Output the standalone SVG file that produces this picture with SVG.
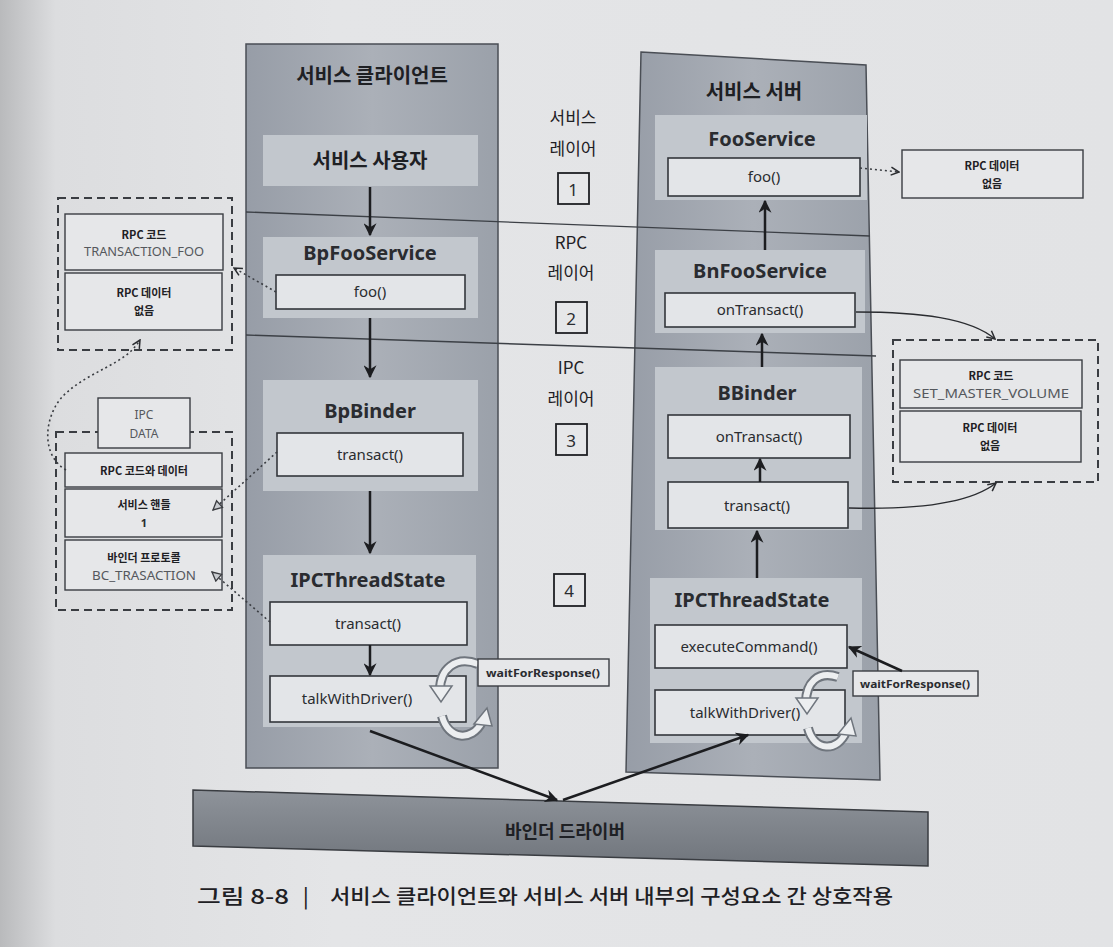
<svg xmlns="http://www.w3.org/2000/svg" width="1113" height="947" viewBox="0 0 1113 947">
<defs>
  <linearGradient id="bg" x1="0" y1="0" x2="1" y2="0">
    <stop offset="0" stop-color="#b9babc"/>
    <stop offset="0.05" stop-color="#dcdddf"/>
    <stop offset="0.3" stop-color="#e4e5e7"/>
    <stop offset="1" stop-color="#e2e3e5"/>
  </linearGradient>
  <linearGradient id="panel" x1="0" y1="0" x2="1" y2="0">
    <stop offset="0" stop-color="#979da7"/>
    <stop offset="0.5" stop-color="#abb0b8"/>
    <stop offset="1" stop-color="#9ba1aa"/>
  </linearGradient>
  <linearGradient id="bar" x1="0" y1="0" x2="0" y2="1">
    <stop offset="0" stop-color="#8e939a"/>
    <stop offset="1" stop-color="#70757c"/>
  </linearGradient>
  <marker id="ah" viewBox="0 0 10 10" refX="9" refY="5" markerWidth="13" markerHeight="13" markerUnits="userSpaceOnUse" orient="auto">
    <path d="M0,0 L10,5 L0,10 L3,5 z" fill="#1c1d20"/>
  </marker>
  <marker id="ao" viewBox="0 0 10 10" refX="9" refY="5" markerWidth="10" markerHeight="10" markerUnits="userSpaceOnUse" orient="auto">
    <path d="M1,1 L9,5 L1,9" fill="none" stroke="#2a2c30" stroke-width="1.5"/>
  </marker>
  <marker id="at" viewBox="0 0 10 10" refX="9" refY="5" markerWidth="11" markerHeight="11" markerUnits="userSpaceOnUse" orient="auto">
    <path d="M1,1 L9,5 L1,9 z" fill="#c9ccd0" stroke="#3a3c40" stroke-width="1.2"/>
  </marker>
  <style>
    .k{font-family:"Noto Sans CJK KR","Noto Sans",sans-serif;fill:#1e2024;text-anchor:middle}
    .l{font-family:"Noto Sans","Noto Sans CJK KR",sans-serif;fill:#2a2c30;text-anchor:middle}
    .cap{font-family:"Noto Sans CJK KR","Noto Sans",sans-serif;fill:#1e2024;font-size:20px;font-weight:500}
    .t{font-size:20px;font-weight:bold}
    .m{font-size:15px}
    .s{font-size:11px;font-weight:bold}
    .ss{font-size:12px;fill:#55585d}
    .gbox{fill:#c2c7cd}
    .wbox{fill:#e3e5e8;stroke:#33363b;stroke-width:1.6}
    .pbox{fill:#e6e7e9;stroke:#3a3d42;stroke-width:1.4}
    .dash{fill:none;stroke:#3a3d42;stroke-width:2;stroke-dasharray:8 5}
    .arr{stroke:#1c1d20;stroke-width:2.5;fill:none}
    .dot{stroke:#3a3d42;stroke-width:1.6;fill:none;stroke-dasharray:2 3}
    .thin{stroke:#2a2c30;stroke-width:1.4;fill:none}
    .num{fill:#e6e7e9;stroke:#1e2024;stroke-width:1.8}
    .loopo{fill:none;stroke:#6f757d;stroke-width:10}
    .loopi{fill:none;stroke:#eceef0;stroke-width:6}
  </style>
</defs>
<rect x="0" y="0" width="1113" height="947" fill="url(#bg)"/>

<g id="client-panel">
  <rect x="246" y="44" width="252" height="724" fill="url(#panel)" stroke="#4a4e55" stroke-width="1.5"/>
  <text class="k t" x="372" y="83">서비스 클라이언트</text>
</g>
<g id="server-panel">
  <polygon points="641,52 866,65 880,780 626,772" fill="url(#panel)" stroke="#4a4e55" stroke-width="1.5"/>
  <text class="k t" x="754" y="99">서비스 서버</text>
</g>

<g id="layer-lines">
  <line x1="246" y1="212" x2="870" y2="236" stroke="#3c4046" stroke-width="1.4"/>
  <line x1="246" y1="335" x2="876" y2="356" stroke="#3c4046" stroke-width="1.4"/>
</g>

<g id="layer-labels">
  <text class="k" x="573" y="124" font-size="17">서비스</text>
  <text class="k" x="573" y="155" font-size="17">레이어</text>
  <rect class="num" x="558" y="173" width="31" height="31"/>
  <text class="l" x="573" y="196" font-size="17">1</text>
  <text class="k" x="571" y="249" font-size="17">RPC</text>
  <text class="k" x="571" y="279" font-size="17">레이어</text>
  <rect class="num" x="556" y="302" width="31" height="31"/>
  <text class="l" x="571" y="325" font-size="17">2</text>
  <text class="k" x="571" y="374" font-size="17">IPC</text>
  <text class="k" x="571" y="405" font-size="17">레이어</text>
  <rect class="num" x="556" y="424" width="31" height="31"/>
  <text class="l" x="571" y="447" font-size="17">3</text>
  <rect class="num" x="554" y="574" width="31" height="32"/>
  <text class="l" x="569" y="597" font-size="17">4</text>
</g>

<g id="service-user">
  <rect class="gbox" x="263" y="135" width="215" height="51"/>
  <text class="k t" x="370" y="168">서비스 사용자</text>
</g>
<g id="bpfooservice">
  <rect class="gbox" x="263" y="237" width="215" height="81"/>
  <text class="l t" x="370" y="260">BpFooService</text>
  <rect class="wbox" x="276" y="275" width="189" height="34"/>
  <text class="l m" x="370" y="297">foo()</text>
</g>
<g id="bpbinder">
  <rect class="gbox" x="263" y="380" width="215" height="111"/>
  <text class="l t" x="370" y="418">BpBinder</text>
  <rect class="wbox" x="277" y="433" width="186" height="43"/>
  <text class="l m" x="370" y="460">transact()</text>
</g>
<g id="client-ipcthreadstate">
  <rect class="gbox" x="263" y="555" width="213" height="172"/>
  <text class="l t" x="368" y="587">IPCThreadState</text>
  <rect class="wbox" x="270" y="602" width="197" height="43"/>
  <text class="l m" x="368" y="629">transact()</text>
  <rect class="wbox" x="270" y="676" width="196" height="46"/>
  <text class="l m" x="357" y="704">talkWithDriver()</text>
</g>

<g id="fooservice">
  <rect class="gbox" x="655" y="115" width="212" height="85"/>
  <text class="l t" x="762" y="146">FooService</text>
  <rect class="wbox" x="668" y="158" width="192" height="38"/>
  <text class="l m" x="764" y="182">foo()</text>
</g>
<g id="bnfooservice">
  <rect class="gbox" x="655" y="250" width="210" height="83"/>
  <text class="l t" x="760" y="278">BnFooService</text>
  <rect class="wbox" x="665" y="293" width="190" height="34"/>
  <text class="l m" x="760" y="315">onTransact()</text>
</g>
<g id="bbinder">
  <rect class="gbox" x="655" y="367" width="207" height="163"/>
  <text class="l t" x="757" y="400">BBinder</text>
  <rect class="wbox" x="668" y="415" width="182" height="43"/>
  <text class="l m" x="759" y="442">onTransact()</text>
  <rect class="wbox" x="668" y="482" width="180" height="46"/>
  <text class="l m" x="757" y="511">transact()</text>
</g>
<g id="server-ipcthreadstate">
  <rect class="gbox" x="650" y="578" width="212" height="165"/>
  <text class="l t" x="752" y="607">IPCThreadState</text>
  <rect class="wbox" x="655" y="625" width="192" height="43"/>
  <text class="l m" x="749" y="652">executeCommand()</text>
  <rect class="wbox" x="655" y="690" width="190" height="45"/>
  <text class="l m" x="745" y="718">talkWithDriver()</text>
</g>

<g id="binder-driver">
  <polygon points="193,790 928,812 928,866 193,846" fill="url(#bar)" stroke="#3a3d42" stroke-width="1.5"/>
  <text class="k" x="565" y="838" font-size="18" font-weight="bold">바인더 드라이버</text>
</g>

<g id="client-loop">
  <path class="loopo" d="M478,664 C455,655 440,670 440,690"/>
  <path class="loopi" d="M478,664 C455,655 440,670 440,690"/>
  <polygon points="430,686 452,686 441,702" fill="#eceef0" stroke="#6f757d" stroke-width="1.5"/>
  <path class="loopo" d="M442,716 C448,740 472,742 482,722"/>
  <path class="loopi" d="M442,716 C448,740 472,742 482,722"/>
  <polygon points="474,724 492,726 487,708" fill="#eceef0" stroke="#6f757d" stroke-width="1.5"/>
</g>
<g id="client-wait">
  <rect class="pbox" x="478" y="659" width="131" height="27"/>
  <text class="l" x="543" y="677" font-size="10" font-weight="bold" textLength="114" lengthAdjust="spacingAndGlyphs">waitForResponse()</text>
</g>
<g id="server-loop">
  <path class="loopo" d="M838,677 C817,670 806,684 806,702"/>
  <path class="loopi" d="M838,677 C817,670 806,684 806,702"/>
  <polygon points="796,698 818,698 807,714" fill="#eceef0" stroke="#6f757d" stroke-width="1.5"/>
  <path class="loopo" d="M808,728 C814,752 838,752 846,732"/>
  <path class="loopi" d="M808,728 C814,752 838,752 846,732"/>
  <polygon points="838,734 856,736 851,718" fill="#eceef0" stroke="#6f757d" stroke-width="1.5"/>
</g>
<g id="server-wait">
  <rect class="pbox" x="853" y="671" width="125" height="25"/>
  <text class="l" x="915" y="688" font-size="10" font-weight="bold" textLength="110" lengthAdjust="spacingAndGlyphs">waitForResponse()</text>
</g>

<g id="rpc-foo-group">
  <rect class="dash" x="58" y="198" width="174" height="152"/>
  <rect class="pbox" x="65" y="214" width="158" height="56"/>
  <text class="k s" x="144" y="239">RPC 코드</text>
  <text class="l ss" x="144" y="256" textLength="120" lengthAdjust="spacingAndGlyphs">TRANSACTION_FOO</text>
  <rect class="pbox" x="65" y="273" width="157" height="57"/>
  <text class="k s" x="144" y="297">RPC 데이터</text>
  <text class="k s" x="144" y="315">없음</text>
</g>

<g id="ipc-data-group">
  <rect class="dash" x="56" y="432" width="176" height="178"/>
  <rect class="pbox" x="98" y="398" width="92" height="50"/>
  <text class="l ss" x="144" y="419">IPC</text>
  <text class="l ss" x="144" y="438">DATA</text>
  <rect class="pbox" x="65" y="453" width="157" height="34"/>
  <text class="k s" x="144" y="475">RPC 코드와 데이터</text>
  <rect class="pbox" x="65" y="489" width="157" height="48"/>
  <text class="k s" x="144" y="509">서비스 핸들</text>
  <text class="l s" x="144" y="527">1</text>
  <rect class="pbox" x="65" y="540" width="157" height="50"/>
  <text class="k s" x="144" y="562">바인더 프로토콜</text>
  <text class="l ss" x="144" y="580" textLength="104" lengthAdjust="spacingAndGlyphs">BC_TRASACTION</text>
</g>

<g id="rpc-data-none">
  <rect class="pbox" x="902" y="150" width="181" height="48"/>
  <text class="k s" x="992" y="170">RPC 데이터</text>
  <text class="k s" x="992" y="188">없음</text>
</g>

<g id="rpc-volume-group">
  <rect class="dash" x="893" y="340" width="205" height="142"/>
  <rect class="pbox" x="900" y="360" width="182" height="48"/>
  <text class="k s" x="991" y="380">RPC 코드</text>
  <text class="l ss" x="991" y="398" textLength="156" lengthAdjust="spacingAndGlyphs">SET_MASTER_VOLUME</text>
  <rect class="pbox" x="900" y="411" width="181" height="51"/>
  <text class="k s" x="990" y="432">RPC 데이터</text>
  <text class="k s" x="990" y="450">없음</text>
</g>

<g id="connectors">
  <line class="arr" x1="370" y1="187" x2="370" y2="235" marker-end="url(#ah)"/>
  <line class="arr" x1="370" y1="318" x2="370" y2="377" marker-end="url(#ah)"/>
  <line class="arr" x1="370" y1="491" x2="370" y2="553" marker-end="url(#ah)"/>
  <line class="arr" x1="370" y1="645" x2="370" y2="675" marker-end="url(#ah)"/>
  <line class="arr" x1="765" y1="250" x2="765" y2="201" marker-end="url(#ah)"/>
  <line class="arr" x1="762" y1="367" x2="762" y2="334" marker-end="url(#ah)"/>
  <line class="arr" x1="760" y1="482" x2="760" y2="459" marker-end="url(#ah)"/>
  <line class="arr" x1="757" y1="578" x2="757" y2="531" marker-end="url(#ah)"/>
  <line class="arr" x1="370" y1="731" x2="557" y2="800" marker-end="url(#ah)"/>
  <line class="arr" x1="563" y1="800" x2="748" y2="735" marker-end="url(#ah)"/>
  <line class="arr" x1="902" y1="671" x2="849" y2="647" marker-end="url(#ah)"/>
  <line class="dot" x1="276" y1="292" x2="234" y2="268" marker-end="url(#ao)"/>
  <path class="dot" d="M66,470 C40,455 44,415 64,395 C90,370 125,365 140,340" marker-end="url(#ao)"/>
  <line class="dot" x1="277" y1="452" x2="213" y2="510" marker-end="url(#at)"/>
  <line class="dot" x1="270" y1="622" x2="212" y2="572" marker-end="url(#at)"/>
  <line class="dot" x1="860" y1="168" x2="899" y2="172" marker-end="url(#ao)"/>
  <path class="thin" d="M856,312 C920,312 970,318 995,339" marker-end="url(#ao)"/>
  <path class="thin" d="M849,508 C920,510 972,502 996,483" marker-end="url(#ao)"/>
</g>

<g id="caption">
  <text class="cap" x="197" y="904" textLength="92" lengthAdjust="spacingAndGlyphs">그림 8-8</text>
  <text class="cap" x="303" y="904" font-weight="300">|</text>
  <text class="cap" x="330" y="904" textLength="563" lengthAdjust="spacingAndGlyphs">서비스 클라이언트와 서비스 서버 내부의 구성요소 간 상호작용</text>
</g>
</svg>
